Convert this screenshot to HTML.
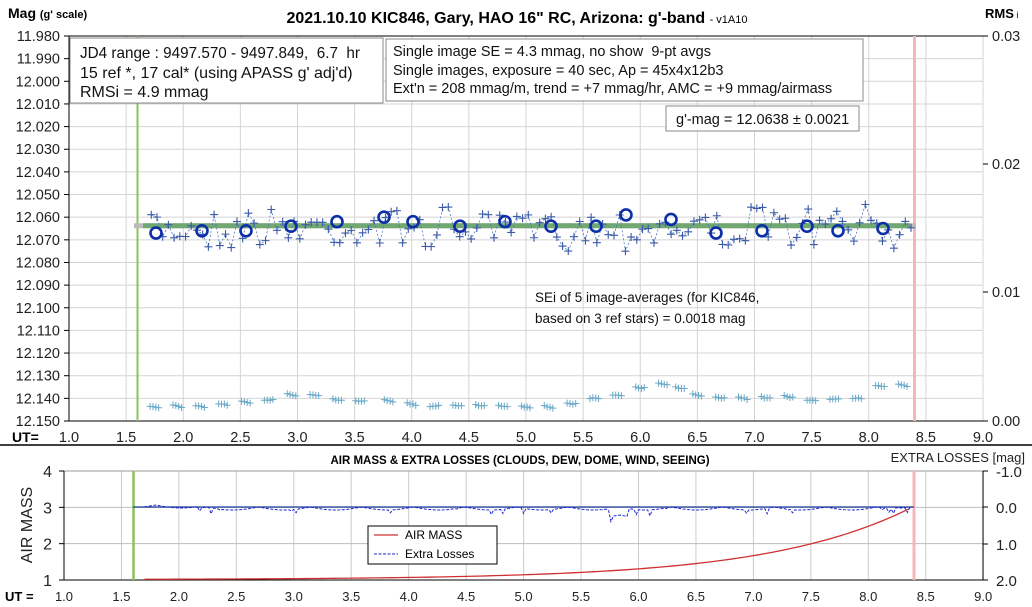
<!DOCTYPE html>
<html><head><meta charset="utf-8"><style>
body{margin:0;background:#fff;}
svg{display:block;font-family:"Liberation Sans",Arial,sans-serif;}
</style></head><body>
<svg id="s" width="1032" height="607" viewBox="0 0 1032 607" xmlns="http://www.w3.org/2000/svg"></svg>
<script>
const s=document.getElementById('s');let h='';
function X(u){return 69+(u-1)*114.25;}
function Y(m){return 36+(m-11.98)*2264.7;}
function X2(u){return 64+(u-1)*114.9;}
function Y2(a){return 580-(a-1)*36.33;}
let seed=7;function r(){seed=(seed*16807)%2147483647;return seed/2147483647;}
for(let i=0;i<=17;i++){let y=36+i*22.647;h+=`<line x1="69" x2="983" y1="${y}" y2="${y}" stroke="#d4d4d4"/>`;
h+=`<line x1="64" x2="69" y1="${y}" y2="${y}" stroke="#000"/>`;
h+=`<text x="60" y="${y+5}" font-size="14.5" text-anchor="end" fill="#222">${(11.98+i*0.01).toFixed(3)}</text>`;}
for(let i=1;i<=16;i++){let x=69+i*57.125;h+=`<line x1="${x}" x2="${x}" y1="36" y2="421" stroke="#d4d4d4"/>`;}
for(let i=0;i<=16;i++){let x=69+i*57.125;h+=`<text x="${x}" y="442" font-size="14.5" text-anchor="middle" fill="#222">${(1+i*0.5).toFixed(1)}</text>`;}
h+=`<line x1="69" x2="983" y1="36" y2="36" stroke="#000"/><line x1="69" x2="69" y1="36" y2="421" stroke="#000"/><line x1="69" x2="983" y1="421" y2="421" stroke="#000"/>`;
[[36,'0.03'],[164,'0.02'],[292,'0.01'],[421,'0.00']].forEach(([y,t])=>{h+=`<line x1="983" x2="988" y1="${y}" y2="${y}" stroke="#000"/><text x="992" y="${y+5}" font-size="14.5" fill="#222">${t}</text>`;});
h+=`<line x1="137.5" x2="137.5" y1="36" y2="421" stroke="#8dc15a" stroke-width="2"/>`;
h+=`<line x1="914.5" x2="914.5" y1="36" y2="421" stroke="#f4b6b6" stroke-width="3"/>`;
h+=`<line x1="134" x2="916" y1="225.8" y2="225.8" stroke="#bbb" stroke-width="5"/>`;
h+=`<line x1="143" x2="910" y1="225.8" y2="225.8" stroke="#6aa56a" stroke-width="5" opacity="0.9"/>`;
let pts=[];for(let u=1.72;u<=8.4;u+=0.05){let m=12.0648+(r()-0.5)*0.016+(r()-0.5)*0.005;pts.push([X(u),Y(m)]);}
h+=`<polyline points="${pts.map(p=>p.join(',')).join(' ')}" fill="none" stroke="#4a78c0" stroke-width="0.8" stroke-dasharray="2,2"/>`;
pts.forEach(p=>{h+=`<path d="M${p[0]-4},${p[1]}h8M${p[0]},${p[1]-4}v8" stroke="#3a5aa8" stroke-width="1.1"/>`;});
const cx=[156,202,246,291,337,384,413,460,505,551,596,626,671,716,762,807,838,883];
const cm=[12.067,12.066,12.066,12.064,12.062,12.060,12.062,12.064,12.062,12.064,12.064,12.059,12.061,12.067,12.066,12.064,12.066,12.065];
cx.forEach((x,i)=>{h+=`<circle cx="${x}" cy="${Y(cm[i])}" r="5.5" fill="none" stroke="#0c2fa8" stroke-width="2.6"/>`;});
const rc=[[1.75,407],[1.95,406],[2.15,406],[2.35,404],[2.55,402],[2.75,400],[2.95,395],[3.15,395],[3.35,400],[3.55,401],[3.8,401],[4.0,404],[4.2,406],[4.4,406],[4.6,406],[4.8,406],[5.0,407],[5.2,407],[5.4,404],[5.6,398],[5.8,395],[6.0,388],[6.2,384],[6.35,388],[6.5,395],[6.7,398],[6.9,398],[7.1,398],[7.3,397],[7.5,400],[7.7,399],[7.9,398],[8.1,386],[8.3,385]];
rc.forEach(([u,y])=>{for(let k=0;k<4;k++){let x=X(u-0.04+k*0.025),yy=y+(k-1.5)*(r()-0.3)*1.5;h+=`<path d="M${x-3.5},${yy}h7M${x},${yy-3.5}v7" stroke="#6aaac8" stroke-width="1"/>`;}});
h+=`<text x="8" y="18" font-size="14" font-weight="bold">Mag <tspan font-size="11">(g' scale)</tspan></text>`;
h+=`<text x="517" y="23" font-size="16" font-weight="bold" text-anchor="middle">2021.10.10 KIC846, Gary, HAO 16" RC, Arizona: g'-band <tspan font-size="11" font-weight="normal">- v1A10</tspan></text>`;
h+=`<text x="985" y="18" font-size="13" font-weight="bold">RMS<tspan font-size="9" font-weight="normal"> i</tspan></text>`;
h+=`<rect x="70" y="38" width="313" height="65" fill="#fff" stroke="#888"/>`;
h+=`<text font-size="16" fill="#111" xml:space="preserve"><tspan x="80" y="58" textLength="280" lengthAdjust="spacingAndGlyphs">JD4 range : 9497.570 - 9497.849,  6.7  hr</tspan><tspan x="80" y="78">15 ref *, 17 cal* (using APASS g' adj'd)</tspan><tspan x="80" y="97">RMSi = 4.9 mmag</tspan></text>`;
h+=`<rect x="386" y="39" width="477" height="62" fill="#fff" stroke="#888"/>`;
h+=`<text font-size="14.5" fill="#111" xml:space="preserve"><tspan x="393" y="56">Single image SE = 4.3 mmag, no show  9-pt avgs</tspan><tspan x="393" y="75">Single images, exposure = 40 sec, Ap = 45x4x12b3</tspan><tspan x="393" y="93">Ext'n = 208 mmag/m, trend = +7 mmag/hr, AMC = +9 mmag/airmass</tspan></text>`;
h+=`<rect x="666" y="106" width="193" height="25" fill="#fff" stroke="#888"/>`;
h+=`<text x="676" y="124" font-size="14.5" fill="#111">g'-mag = 12.0638 ± 0.0021</text>`;
h+=`<text font-size="13.5" fill="#111"><tspan x="535" y="302">SEi of 5 image-averages (for KIC846,</tspan><tspan x="535" y="323">based on 3 ref stars) = 0.0018 mag</tspan></text>`;
h+=`<text x="12" y="442" font-size="14" font-weight="bold">UT=</text>`;
h+=`<line x1="0" x2="1032" y1="445" y2="445" stroke="#000" stroke-width="1.5"/>`;
h+=`<text x="520" y="464" font-size="11.5" font-weight="bold" text-anchor="middle">AIR MASS &amp; EXTRA LOSSES (CLOUDS, DEW, DOME, WIND, SEEING)</text>`;
h+=`<text x="1025" y="462" font-size="13" text-anchor="end" fill="#222">EXTRA LOSSES [mag]</text>`;
for(let i=1;i<=16;i++){let x=64+i*57.45;h+=`<line x1="${x}" x2="${x}" y1="471" y2="580" stroke="#ccc"/>`;}
[2,3].forEach(a=>{h+=`<line x1="64" x2="983" y1="${Y2(a)}" y2="${Y2(a)}" stroke="#bbb"/>`;});
h+=`<line x1="64" x2="983" y1="471" y2="471" stroke="#999"/>`;
h+=`<line x1="64" x2="64" y1="471" y2="580" stroke="#000"/><line x1="983" x2="983" y1="471" y2="580" stroke="#000"/><line x1="64" x2="983" y1="580" y2="580" stroke="#000"/>`;
[4,3,2,1].forEach(a=>{let y=Y2(a);h+=`<line x1="59" x2="64" y1="${y}" y2="${y}" stroke="#000"/><text x="52" y="${y+6}" font-size="16" text-anchor="end" fill="#222">${a}</text>`;});
[['-1.0',471],['0.0',507],['1.0',544],['2.0',580]].forEach(([t,y])=>{h+=`<line x1="983" x2="988" y1="${y}" y2="${y}" stroke="#000"/><text x="996" y="${y+6}" font-size="15" fill="#222">${t}</text>`;});
for(let i=0;i<=16;i++){let x=64+i*57.45;h+=`<text x="${x}" y="601" font-size="13" text-anchor="middle" fill="#222">${(1+i*0.5).toFixed(1)}</text>`;}
h+=`<text x="5" y="601" font-size="13" font-weight="bold">UT =</text>`;
h+=`<text transform="translate(32,525) rotate(-90)" font-size="16" text-anchor="middle" fill="#222">AIR MASS</text>`;
h+=`<line x1="133.5" x2="133.5" y1="471" y2="580" stroke="#8dc15a" stroke-width="2.5"/>`;
h+=`<line x1="914" x2="914" y1="471" y2="580" stroke="#f4b6b6" stroke-width="3"/>`;
h+=`<line x1="133" x2="914" y1="507" y2="507" stroke="#1a3a9a" stroke-width="1.2"/>`;
let am=[];for(let u=1.7;u<=8.38;u+=0.05){let a=1.02+(Math.exp((u-1.7)*0.8)-1)*0.0095;am.push([X2(u),Y2(a)]);}
h+=`<polyline points="${am.map(p=>p.join(',')).join(' ')}" fill="none" stroke="#d03030" stroke-width="1.3"/>`;
let el=[];for(let u=1.7;u<=8.38;u+=0.02){let v=507+Math.abs(Math.sin(u*7))*3+(r()<0.06?r()*6:0)+(u>5.75&&u<5.9?8:0)-(u<2.2?2:0)-(u>8.2?2:0);el.push([X2(u),v]);}
h+=`<polyline points="${el.map(p=>p.join(',')).join(' ')}" fill="none" stroke="#1a2ad0" stroke-width="1" stroke-dasharray="3,1.5"/>`;
h+=`<rect x="368" y="526" width="129" height="38" fill="#fff" stroke="#000"/>`;
h+=`<line x1="374" x2="398" y1="535" y2="535" stroke="#d03030" stroke-width="1.3"/><text x="405" y="539" font-size="12">AIR MASS</text>`;
h+=`<line x1="374" x2="398" y1="554" y2="554" stroke="#1a2ad0" stroke-dasharray="3,1.5"/><text x="405" y="558" font-size="12">Extra Losses</text>`;
s.innerHTML=h;
</script>
</body></html>
